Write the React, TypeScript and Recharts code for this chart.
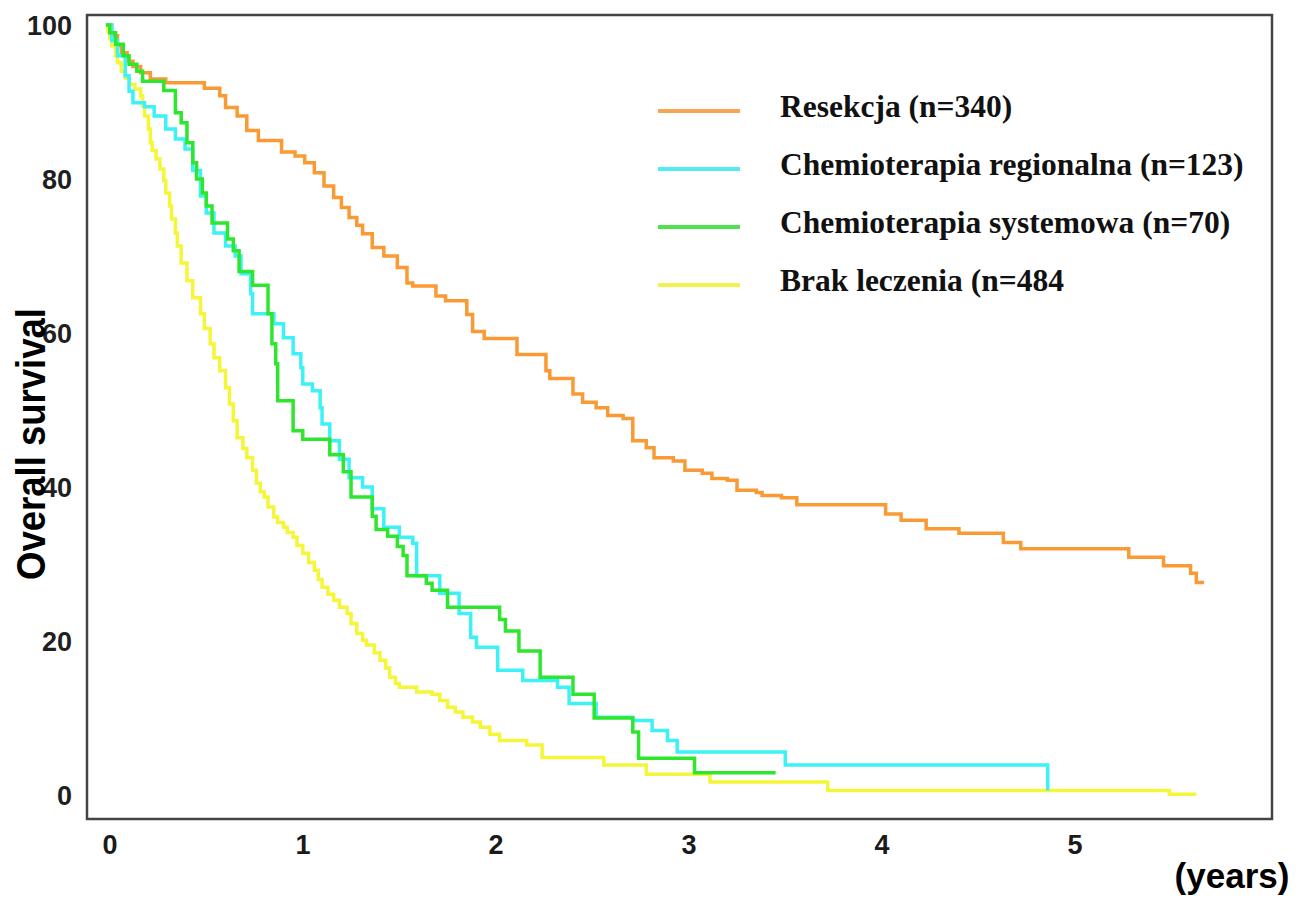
import { LineChart, Line, XAxis, YAxis, ReferenceArea } from 'recharts'

// survival curves: [years, % alive]
const RESEKCJA: [number, number][] = [
  [0, 100], [0.03, 98.6], [0.06, 97.3], [0.08, 96.4], [0.11, 95.3], [0.14, 94.6], [0.18, 93.8],
  [0.23, 93], [0.31, 92.5], [0.51, 91.8], [0.59, 90.8], [0.62, 89.3], [0.68, 88.2], [0.73, 86.3],
  [0.79, 85], [0.91, 83.5], [0.98, 83], [1.03, 82.1], [1.08, 80.8], [1.13, 79.1], [1.18, 77.6],
  [1.22, 76.3], [1.26, 75], [1.3, 74], [1.33, 72.9], [1.38, 71.1], [1.44, 70], [1.51, 68.5],
  [1.56, 66.5], [1.59, 66.1], [1.71, 64.8], [1.76, 64.2], [1.87, 62.4], [1.9, 60.2], [1.96, 59.3],
  [2.13, 57.2], [2.28, 55.1], [2.3, 54.1], [2.42, 52.1], [2.47, 51], [2.54, 50.3], [2.6, 49.3],
  [2.68, 48.9], [2.73, 46], [2.8, 45.1], [2.84, 43.8], [2.94, 43.4], [3.0, 42.2], [3.09, 41.8],
  [3.14, 41.1], [3.22, 40.9], [3.27, 39.6], [3.37, 39.3], [3.4, 38.9], [3.5, 38.6], [3.58, 37.7],
  [4.04, 36.5], [4.12, 35.7], [4.25, 34.6], [4.42, 34], [4.65, 32.8], [4.74, 32], [5.3, 30.9],
  [5.48, 29.8], [5.62, 28.8], [5.65, 27.6], [5.69, 27.6],
]

const REGIONALNA: [number, number][] = [
  [0, 100], [0.03, 98], [0.06, 96], [0.1, 93.4], [0.12, 91.4], [0.14, 89.9], [0.2, 89.4],
  [0.25, 88.2], [0.31, 86.5], [0.36, 85.2], [0.41, 83.9], [0.45, 81.1], [0.49, 77.8], [0.52, 75.6],
  [0.56, 73], [0.62, 71.3], [0.67, 70], [0.7, 67.7], [0.75, 65.1], [0.76, 62.5], [0.87, 61.2],
  [0.92, 59.4], [0.97, 57.3], [1.01, 55.5], [1.02, 53.4], [1.07, 52.5], [1.11, 50.3], [1.12, 48.2],
  [1.16, 46], [1.21, 43.6], [1.26, 41.2], [1.33, 40], [1.38, 37.2], [1.44, 34.8], [1.52, 33.5],
  [1.59, 32.7], [1.61, 28.5], [1.73, 26.2], [1.83, 23.6], [1.89, 20.5], [1.92, 19.2], [2.03, 16.2],
  [2.16, 14.9], [2.34, 14], [2.4, 11.9], [2.54, 10.1], [2.73, 9.7], [2.83, 8.4], [2.91, 7.1],
  [2.96, 5.6], [3.52, 3.9], [4.88, 0.6],
]

const SYSTEMOWA: [number, number][] = [
  [0, 100], [0.02, 99], [0.05, 97.5], [0.09, 96], [0.12, 94.9], [0.16, 94], [0.19, 92.7],
  [0.3, 91.5], [0.36, 88.6], [0.39, 87.3], [0.42, 84.7], [0.45, 82.1], [0.47, 80], [0.5, 78.2],
  [0.52, 76.5], [0.55, 74.3], [0.63, 72.2], [0.66, 70.7], [0.69, 68], [0.76, 66.2], [0.84, 62.5],
  [0.86, 58.6], [0.88, 56], [0.89, 51.2], [0.97, 47.3], [1.02, 46.2], [1.16, 44.2], [1.23, 42],
  [1.27, 38.7], [1.38, 36.2], [1.4, 34.5], [1.46, 33.6], [1.51, 32.3], [1.54, 31.1], [1.56, 28.5],
  [1.66, 27.5], [1.69, 26.6], [1.77, 24.4], [2.04, 22.8], [2.07, 21.3], [2.14, 18.7], [2.25, 15.3],
  [2.42, 13.1], [2.53, 10], [2.73, 8.2], [2.76, 4.8], [3.05, 2.9], [3.47, 2.9],
]

const BRAK: [number, number][] = [
  [0, 100], [0.01, 99.2], [0.02, 98.2], [0.03, 97.3], [0.05, 96], [0.06, 95.1], [0.08, 94],
  [0.1, 93.1], [0.12, 92.3], [0.15, 91.7], [0.18, 90.8], [0.19, 89.5], [0.2, 88.2], [0.22, 86.5],
  [0.23, 84.7], [0.24, 83.7], [0.26, 82.6], [0.28, 81.3], [0.3, 79.8], [0.31, 78.2], [0.33, 76.5],
  [0.34, 74.8], [0.36, 73], [0.37, 71.3], [0.39, 69.1], [0.42, 66.8], [0.45, 64.6], [0.49, 62.5],
  [0.51, 60.6], [0.54, 58.6], [0.56, 56.8], [0.59, 55.1], [0.62, 52.9], [0.64, 50.8], [0.66, 48.6],
  [0.68, 46.4], [0.71, 45], [0.73, 43.8], [0.76, 42.2], [0.78, 40.5], [0.8, 39.4], [0.82, 38.7],
  [0.84, 37.4], [0.87, 36.1], [0.89, 35.4], [0.92, 34.8], [0.94, 34.1], [0.97, 33.5], [0.99, 32.4],
  [1.02, 31.4], [1.05, 30.2], [1.08, 29.2], [1.1, 28], [1.12, 27], [1.15, 26.1], [1.18, 25.3],
  [1.21, 24.4], [1.25, 23.6], [1.27, 22.3], [1.3, 21], [1.33, 20.1], [1.35, 19.5], [1.39, 18.5],
  [1.42, 17.5], [1.45, 16.5], [1.47, 15.3], [1.5, 14.5], [1.52, 14], [1.61, 13.4], [1.69, 13.1],
  [1.73, 12.3], [1.77, 11.4], [1.81, 10.8], [1.85, 10.1], [1.9, 9.5], [1.94, 8.8], [1.99, 7.9],
  [2.04, 7.1], [2.18, 6.5], [2.26, 4.9], [2.58, 3.9], [2.8, 2.7], [3.13, 1.7], [3.74, 0.6],
  [5.51, 0.1], [5.65, 0.1],
]

const X_TICKS = [0, 1, 2, 3, 4, 5]
const Y_TICKS = [0, 20, 40, 60, 80, 100]
const X_DOMAIN: [number, number] = [-0.098, 6.042]
const Y_DOMAIN: [number, number] = [-3.1, 101.3]

const SERIES = [
  { key: 'resekcja', name: 'Resekcja (n=340)', color: '#F99A35', legend: '#F7A551', points: RESEKCJA },
  { key: 'brak', name: 'Brak leczenia (n=484', color: '#F5F53A', legend: '#F2F24A', points: BRAK },
  { key: 'regionalna', name: 'Chemioterapia regionalna (n=123)', color: '#3CF2F7', legend: '#52EBF2', points: REGIONALNA },
  { key: 'systemowa', name: 'Chemioterapia systemowa (n=70)', color: '#2FE62F', legend: '#4EE24E', points: SYSTEMOWA },
]
const LEGEND_ORDER = ['resekcja', 'regionalna', 'systemowa', 'brak']

const W = 1299
const H = 899
const SANS = '"Liberation Sans", Arial, sans-serif'

function XTick({ x, y, payload }: any) {
  return (
    <text x={x + 4} y={y} dy="0.71em" textAnchor="middle" fill="#1a1a1a"
      fontSize={27} fontWeight={700} fontFamily={SANS}>
      {payload.value}
    </text>
  )
}

export default function App() {
  return (
    <div style={{ position: 'absolute', left: 0, top: 0, width: W, height: H, background: '#fff' }}>
      <LineChart width={W} height={H} margin={{ top: 15, right: 27, bottom: 0, left: 0 }}>
        <XAxis
          type="number"
          dataKey="t"
          domain={X_DOMAIN}
          ticks={X_TICKS}
          allowDataOverflow
          height={80}
          tickLine={false}
          tickSize={0}
          tickMargin={16}
          tick={<XTick />}
          axisLine={false}
        />
        <YAxis
          type="number"
          domain={Y_DOMAIN}
          ticks={Y_TICKS}
          allowDataOverflow
          width={87}
          tickLine={false}
          tickSize={0}
          tickMargin={15}
          tick={{ fill: '#1f1f1f', fontSize: 27, fontWeight: 700, fontFamily: SANS }}
          axisLine={false}
        />
        {/* plot frame */}
        <ReferenceArea
          x1={X_DOMAIN[0]}
          x2={X_DOMAIN[1]}
          y1={Y_DOMAIN[0]}
          y2={Y_DOMAIN[1]}
          fill="none"
          stroke="#444"
          strokeWidth={2.5}
          ifOverflow="visible"
        />
        {SERIES.map((s) => (
          <Line
            key={s.key}
            name={s.name}
            data={s.points.map(([t, v]) => ({ t, v }))}
            dataKey="v"
            type="stepAfter"
            stroke={s.color}
            strokeWidth={3.5}
            dot={false}
            activeDot={false}
            isAnimationActive={false}
          />
        ))}
      </LineChart>

      {/* legend */}
      <div style={{ position: 'absolute', left: 658, top: 78, width: 640 }}>
        {LEGEND_ORDER.map((k) => {
          const s = SERIES.find((d) => d.key === k)!
          return (
            <div key={k} style={{ height: 58, display: 'flex', alignItems: 'center' }}>
              <span style={{ display: 'inline-block', width: 82, height: 4, background: s.legend, marginRight: 40, marginTop: 8 }} />
              <span style={{ fontFamily: '"Liberation Serif", "Times New Roman", serif', fontWeight: 700, fontSize: 31.5, color: '#111', whiteSpace: 'nowrap' }}>
                {s.name}
              </span>
            </div>
          )
        })}
      </div>

      {/* axis titles */}
      <svg width={W} height={H} style={{ position: 'absolute', left: 0, top: 0, pointerEvents: 'none' }}>
        <text transform="translate(45,444) rotate(-90)" textAnchor="middle" fontFamily={SANS}
          fontWeight={700} fontSize={40} fill="#000" textLength={272} lengthAdjust="spacingAndGlyphs">
          Overall survival
        </text>
        <text x={1232} y={888} textAnchor="middle" fontFamily={SANS} fontWeight={700} fontSize={35} fill="#000">
          (years)
        </text>
      </svg>
    </div>
  )
}
